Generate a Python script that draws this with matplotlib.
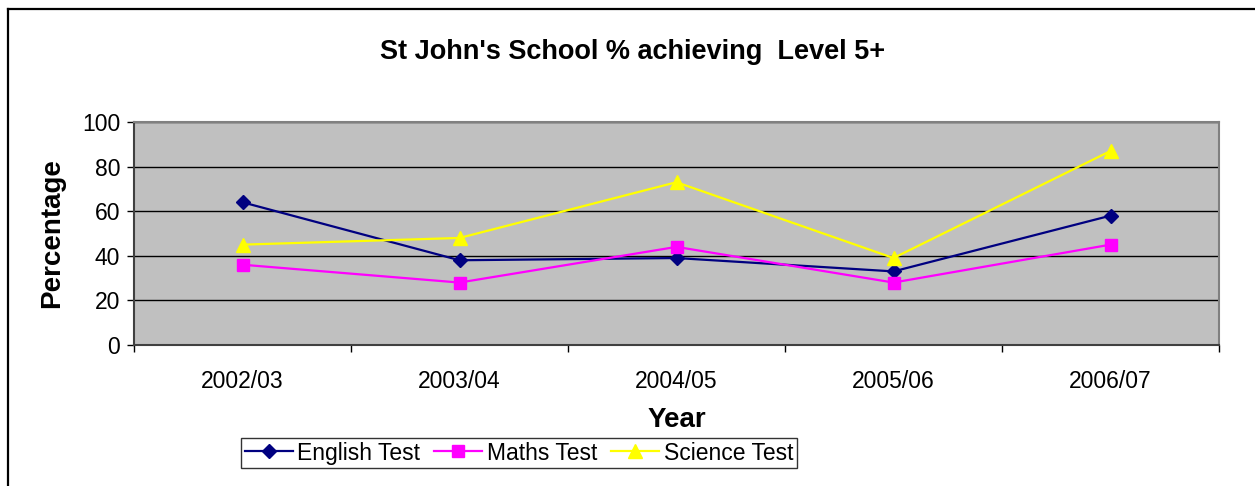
import matplotlib.pyplot as plt
import numpy as np
from matplotlib.lines import Line2D

plt.rcParams['font.family'] = ['Liberation Sans', 'DejaVu Sans']

years = ['2002/03', '2003/04', '2004/05', '2005/06', '2006/07']
english = [64, 38, 39, 33, 58]
maths = [36, 28, 44, 28, 45]
science = [45, 48, 73, 39, 87]

W, H = 1255, 486
fig = plt.figure(figsize=(W / 100, H / 100), dpi=100, facecolor='white')

# outer chart frame (only top and left visible in the reference)
fig.add_artist(Line2D([8 / W, 8 / W], [0, 1 - 9 / H], color='black', lw=1.6))
fig.add_artist(Line2D([8 / W, 1], [1 - 9 / H, 1 - 9 / H], color='black', lw=1.6))

ax = fig.add_axes([134 / W, 1 - 345 / H, (1219 - 134) / W, (345 - 122) / H])
ax.set_facecolor('#c0c0c0')

x = np.arange(len(years))
ax.plot(x, english, color='#000080', marker='D', markersize=7, lw=1.6, label='English Test', clip_on=False, zorder=3)
ax.plot(x, maths, color='#ff00ff', marker='s', markersize=9, lw=1.6, label='Maths Test', clip_on=False, zorder=3)
ax.plot(x, science, color='#ffff00', marker='^', markersize=10, lw=1.6, label='Science Test', clip_on=False, zorder=3)

ax.set_xlim(-0.5, len(years) - 0.5)
ax.set_ylim(0, 100)
ax.set_yticks(range(0, 101, 20))
ax.tick_params(axis='y', labelsize=16.5, length=5, width=1, direction='out', pad=5)
ax.grid(axis='y', color='black', lw=1)
ax.set_axisbelow(True)

# category boundaries get the tick marks, labels sit at centres
ax.set_xticks(np.arange(-0.5, len(years)), minor=False)
ax.set_xticklabels([''] * (len(years) + 1))
ax.set_xticks(x, minor=True)
ax.set_xticklabels(years, minor=True)
ax.tick_params(axis='x', which='major', length=5, width=1, direction='out')
ax.tick_params(axis='x', which='minor', length=0, labelsize=16.5, pad=18)

for s in ['top', 'right']:
    ax.spines[s].set_color('#808080')
    ax.spines[s].set_linewidth(1.5)
for s in ['left', 'bottom']:
    ax.spines[s].set_color('#404040')
    ax.spines[s].set_linewidth(1.5)

fig.text(633 / W, 1 - 52 / H, "St John's School % achieving  Level 5+", ha='center', va='center',
         fontsize=19.5, fontweight='bold')
fig.text(52 / W, 1 - 233 / H, 'Percentage', ha='center', va='center', rotation=90,
         fontsize=20, fontweight='bold')
fig.text(677 / W, 1 - 420 / H, 'Year', ha='center', va='center', fontsize=20, fontweight='bold')

leg = fig.legend(loc='center', bbox_to_anchor=(519 / W, 1 - 453 / H), ncol=3, fontsize=16.5,
                 frameon=True, fancybox=False, edgecolor='black', borderpad=0.15,
                 handlelength=2.1, handletextpad=0.2, columnspacing=0.6, borderaxespad=0)
leg.get_frame().set_linewidth(1)

fig.savefig('out.png', dpi=100, facecolor='white')
